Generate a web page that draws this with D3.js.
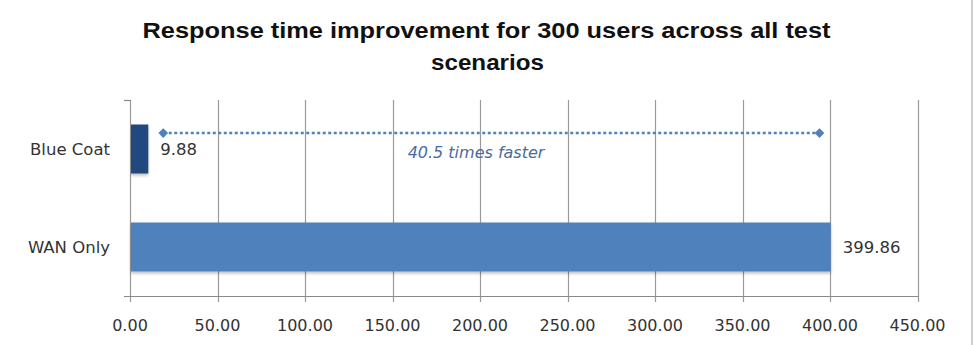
<!DOCTYPE html>
<html>
<head>
<meta charset="utf-8">
<script src="https://cdn.jsdelivr.net/npm/d3@7"></script>
<style>
  body { margin: 0; background: #fff; }
  svg { display: block; }
</style>
</head>
<body>
<div id="chart"></div>
<script>
// data
const categories = ['Blue Coat', 'WAN Only']
const responseTimes = [9.88, 399.86]
const xTicks = [0, 50, 100, 150, 200, 250, 300, 350, 400, 450]
const improvementRange = [19, 394]
const improvementLabel = '40.5 times faster'
const titleLines = ['Response time improvement for 300 users across all test', 'scenarios']

const width = 978
const height = 345

const svg = d3.select('#chart')
    .append('svg')
    .attr('width', width)
    .attr('height', height)

const defs = svg.append('defs')
const shadow = defs.append('filter')
    .attr('id', 'shadow')
    .attr('x', '-5%').attr('y', '-10%')
    .attr('width', '110%').attr('height', '140%')
shadow.append('feDropShadow')
    .attr('dx', 0).attr('dy', 2)
    .attr('stdDeviation', 1.5)
    .attr('flood-color', '#000')
    .attr('flood-opacity', 0.25)

// scales
const x = d3.scaleLinear()
    .domain([0, 450])
    .range([130, 917.5])

const y = d3.scaleBand()
    .domain(categories)
    .range([100, 296])
    .paddingInner(0.5)
    .paddingOuter(0.25)

const plotTop = 100
const plotBottom = 296

// outer frame (right edge only visible)
svg.append('line')
    .attr('x1', 972).attr('x2', 972)
    .attr('y1', 0).attr('y2', height)
    .attr('stroke', '#a0a0a0')
    .attr('stroke-width', 1)

// title
svg.selectAll('.title')
    .data(titleLines)
    .enter()
    .append('text')
    .attr('class', 'title')
    .attr('x', (d, i) => i === 0 ? 486.5 : 487.5)
    .attr('y', (d, i) => 38 + i * 32)
    .attr('text-anchor', 'middle')
    .attr('textLength', (d, i) => i === 0 ? 688 : 113)
    .attr('lengthAdjust', 'spacingAndGlyphs')
    .style('font-family', '"Liberation Sans Narrow", "Liberation Sans", "Open Sans", sans-serif')
    .style('font-weight', 'bold')
    .style('font-size', '22px')
    .style('fill', '#111')
    .text(d => d)

// gridlines
svg.append('g')
    .selectAll('line')
    .data(xTicks)
    .enter()
    .append('line')
    .attr('x1', d => Math.round(x(d)) + 0.5)
    .attr('x2', d => Math.round(x(d)) + 0.5)
    .attr('y1', plotTop)
    .attr('y2', plotBottom + 6)
    .attr('stroke', '#9a9a9a')
    .attr('stroke-width', 1.2)

// x axis line
svg.append('line')
    .attr('x1', 124).attr('x2', x(450) + 1)
    .attr('y1', plotBottom + 0.5).attr('y2', plotBottom + 0.5)
    .attr('stroke', '#8a8a8a')
    .attr('stroke-width', 1.2)

// y axis top tick
svg.append('line')
    .attr('x1', 124).attr('x2', 131)
    .attr('y1', plotTop + 0.5).attr('y2', plotTop + 0.5)
    .attr('stroke', '#8a8a8a')
    .attr('stroke-width', 1.2)

// x tick labels
svg.append('g')
    .selectAll('text')
    .data(xTicks)
    .enter()
    .append('text')
    .attr('x', d => x(d))
    .attr('y', 331)
    .attr('text-anchor', 'middle')
    .style('font-family', '"DejaVu Sans", Verdana, sans-serif')
    .style('font-size', '16px')
    .style('fill', '#333')
    .text(d3.format('.2f'))

// category labels
svg.append('g')
    .selectAll('text')
    .data(categories)
    .enter()
    .append('text')
    .attr('x', 110)
    .attr('y', d => y(d) + y.bandwidth() / 2)
    .attr('dy', '0.36em')
    .attr('text-anchor', 'end')
    .style('font-family', '"DejaVu Sans", Verdana, sans-serif')
    .style('font-size', '16.5px')
    .style('fill', '#333')
    .text(d => d)

// bars
const barColors = ['#23497f', '#4f81bd']
svg.append('g')
    .selectAll('rect')
    .data(responseTimes)
    .enter()
    .append('rect')
    .attr('x', x(0) + 1)
    .attr('y', (d, i) => y(categories[i]))
    .attr('width', d => x(d) - x(0))
    .attr('height', y.bandwidth())
    .attr('fill', (d, i) => barColors[i])
    .attr('filter', 'url(#shadow)')

// value labels
svg.append('g')
    .selectAll('text')
    .data(responseTimes)
    .enter()
    .append('text')
    .attr('x', d => x(d) + 13)
    .attr('y', (d, i) => y(categories[i]) + y.bandwidth() / 2)
    .attr('dy', '0.36em')
    .style('font-family', '"DejaVu Sans", Verdana, sans-serif')
    .style('font-size', '16.5px')
    .style('fill', '#333')
    .text(d3.format('.2f'))

// improvement line
const lineY = y(categories[0]) + y.bandwidth() * 0.175
svg.append('line')
    .attr('x1', x(improvementRange[0]))
    .attr('x2', x(improvementRange[1]))
    .attr('y1', lineY).attr('y2', lineY)
    .attr('stroke', '#4f81bd')
    .attr('stroke-width', 2.5)
    .attr('stroke-dasharray', '3,2.5')

svg.append('g')
    .selectAll('path')
    .data(improvementRange)
    .enter()
    .append('path')
    .attr('d', d3.symbol(d3.symbolDiamond2, 60))
    .attr('transform', d => 'translate(' + x(d) + ',' + lineY + ')')
    .attr('fill', '#4f81bd')

svg.append('text')
    .attr('x', 476)
    .attr('y', 152)
    .attr('dy', '0.36em')
    .attr('text-anchor', 'middle')
    .style('font-family', '"DejaVu Sans", Verdana, sans-serif')
    .style('font-style', 'italic')
    .style('font-size', '16px')
    .style('fill', '#4a6c9b')
    .text(improvementLabel)
</script>
</body>
</html>
